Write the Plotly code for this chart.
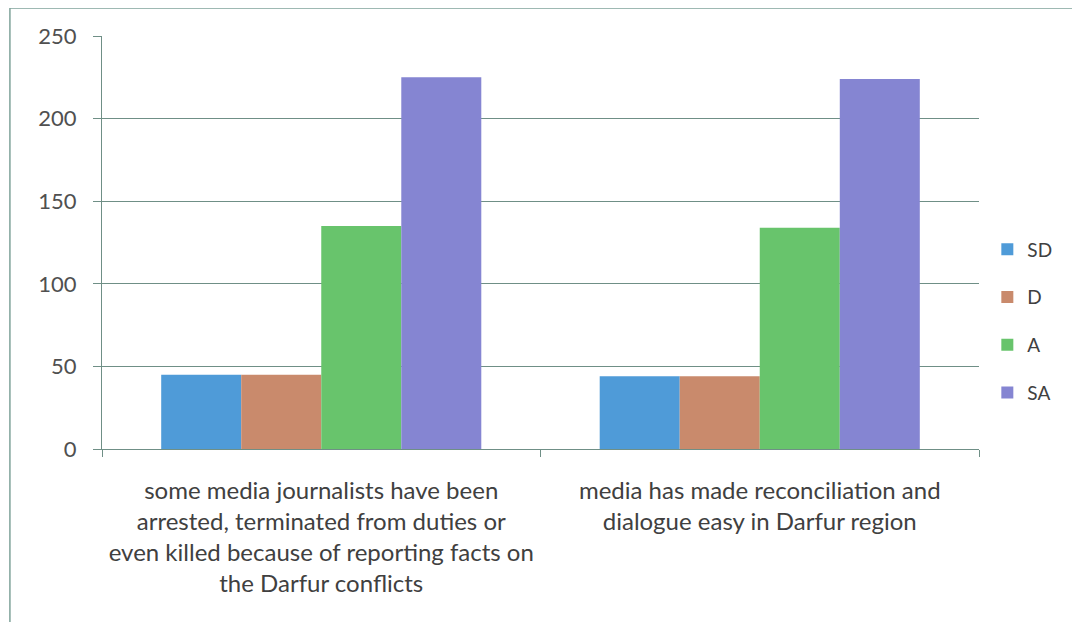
import plotly.graph_objects as go

categories = [
    "some media journalists have been<br>arrested, terminated from duties or<br>even killed because of reporting facts on<br>the Darfur conflicts",
    "media has made reconciliation and<br>dialogue easy in Darfur region",
]
series_names = ["SD", "D", "A", "SA"]
sd_values = [45, 44]
d_values = [45, 44]
a_values = [135, 134]
sa_values = [225, 224]
y_ticks = [0, 50, 100, 150, 200, 250]

colors = ["#4f9bd8", "#c98a6c", "#68c46c", "#8585d2"]
GRID = "#6f8f86"
TEXT = "#404040"

fig = go.Figure()
for i, (name, vals) in enumerate(zip(series_names, [sd_values, d_values, a_values, sa_values])):
    fig.add_trace(
        go.Bar(
            x=categories,
            y=vals,
            name=name,
            marker=dict(color=colors[i], line=dict(width=0)),
            legendgroup=name,
        )
    )

fig.update_layout(
    width=1080,
    height=622,
    barmode="group",
    bargap=0.27,
    bargroupgap=0,
    paper_bgcolor="white",
    plot_bgcolor="white",
    margin=dict(l=94, r=109, t=28, b=181),
    font=dict(family="Lato, Open Sans, sans-serif", color=TEXT, size=24),
    legend=dict(
        x=1.0095,
        y=0.31,
        xanchor="left",
        yanchor="middle",
        font=dict(size=19, color=TEXT),
        tracegroupgap=20,
        itemwidth=30,
    ),
)
fig.update_yaxes(
    range=[0, 250],
    tickvals=y_ticks,
    showgrid=True,
    gridcolor=GRID,
    gridwidth=1,
    showline=True,
    linecolor=GRID,
    ticks="outside",
    ticklen=8,
    tickcolor=GRID,
    ticklabelstandoff=12,
    tickfont=dict(size=22, color="#505050"),
    zeroline=False,
)
fig.update_xaxes(
    showline=True,
    linecolor=GRID,
    ticks="outside",
    tickson="boundaries",
    ticklen=7,
    tickcolor=GRID,
    ticklabelstandoff=20,
    tickfont=dict(size=24, color=TEXT),
)
fig.add_shape(
    type="rect",
    xref="paper",
    yref="paper",
    x0=-0.105,
    x1=1.2,
    y0=-0.5,
    y1=1.068,
    line=dict(color="#7fa39a", width=1.5),
    layer="below",
)
fig.write_html("out.html")
